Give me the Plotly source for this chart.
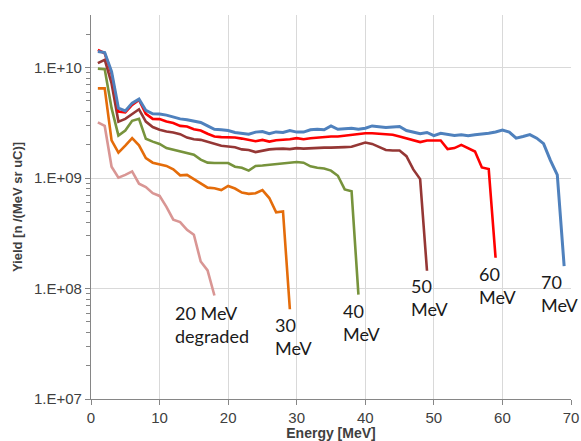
import plotly.graph_objects as go

# Neutron yield spectra per beam energy, 1 MeV bins
yield_70 = [1.40e10, 1.37e10, 9.2e9, 4.3e9, 4.06e9, 4.78e9, 5.19e9, 4.1e9, 3.82e9, 3.8e9,
            3.72e9, 3.57e9, 3.44e9, 3.37e9, 3.3e9, 3.19e9, 2.97e9, 2.77e9, 2.74e9, 2.7e9,
            2.59e9, 2.55e9, 2.5e9, 2.61e9, 2.64e9, 2.52e9, 2.62e9, 2.59e9, 2.7e9, 2.61e9,
            2.61e9, 2.74e9, 2.77e9, 2.74e9, 2.97e9, 2.77e9, 2.79e9, 2.83e9, 2.77e9, 2.83e9,
            2.97e9, 2.93e9, 2.87e9, 2.9e9, 2.93e9, 2.7e9, 2.59e9, 2.52e9, 2.59e9, 2.42e9,
            2.55e9, 2.5e9, 2.43e9, 2.47e9, 2.42e9, 2.47e9, 2.5e9, 2.55e9, 2.62e9, 2.72e9,
            2.61e9, 2.3e9, 2.38e9, 2.48e9, 2.3e9, 2.05e9, 1.45e9, 1.07e9, 1.6e8]
yield_60 = [1.45e10, 1.35e10, 8.8e9, 4.0e9, 3.93e9, 4.6e9, 5.1e9, 3.82e9, 3.44e9, 3.42e9,
            3.25e9, 3.15e9, 2.97e9, 2.93e9, 2.77e9, 2.7e9, 2.52e9, 2.38e9, 2.35e9, 2.35e9,
            2.33e9, 2.28e9, 2.22e9, 2.16e9, 2.22e9, 2.14e9, 2.2e9, 2.22e9, 2.25e9, 2.3e9,
            2.25e9, 2.3e9, 2.33e9, 2.35e9, 2.38e9, 2.38e9, 2.42e9, 2.45e9, 2.5e9, 2.55e9,
            2.55e9, 2.52e9, 2.52e9, 2.47e9, 2.38e9, 2.3e9, 2.22e9, 2.12e9, 2.19e9, 2.19e9,
            2.19e9, 1.83e9, 1.87e9, 2.0e9, 1.87e9, 1.74e9, 1.25e9, 1.21e9, 1.9e8]
yield_50 = [1.1e10, 1.18e10, 7.2e9, 3.25e9, 3.44e9, 3.82e9, 4.2e9, 3.25e9, 2.9e9, 2.74e9,
            2.64e9, 2.59e9, 2.5e9, 2.33e9, 2.25e9, 2.22e9, 2.14e9, 2.03e9, 1.96e9, 1.93e9,
            1.9e9, 1.82e9, 1.8e9, 1.72e9, 1.78e9, 1.82e9, 1.84e9, 1.85e9, 1.83e9, 1.87e9,
            1.85e9, 1.87e9, 1.88e9, 1.89e9, 1.89e9, 1.89e9, 1.91e9, 1.92e9, 2.0e9, 2.1e9,
            2.04e9, 1.93e9, 1.8e9, 1.78e9, 1.78e9, 1.58e9, 1.2e9, 9.8e8, 1.45e8]
yield_40 = [9.8e9, 9.7e9, 4.3e9, 2.43e9, 2.7e9, 3.3e9, 3.44e9, 2.27e9, 2.14e9, 2.04e9,
            1.87e9, 1.8e9, 1.74e9, 1.68e9, 1.63e9, 1.47e9, 1.38e9, 1.37e9, 1.37e9, 1.37e9,
            1.27e9, 1.24e9, 1.17e9, 1.29e9, 1.3e9, 1.32e9, 1.35e9, 1.37e9, 1.38e9, 1.4e9,
            1.38e9, 1.28e9, 1.24e9, 1.22e9, 1.17e9, 1.05e9, 7.9e8, 7.6e8, 8.8e7]
yield_30 = [6.5e9, 6.5e9, 2.2e9, 1.7e9, 1.97e9, 2.3e9, 1.98e9, 1.52e9, 1.38e9, 1.34e9,
            1.29e9, 1.2e9, 1.06e9, 1.07e9, 9.8e8, 9.0e8, 8.2e8, 8.1e8, 7.8e8, 8.5e8,
            8.05e8, 7.4e8, 7.2e8, 7.3e8, 7.8e8, 6.6e8, 4.9e8, 5.0e8, 6.5e7]
yield_20d = [3.2e9, 2.97e9, 1.27e9, 1.01e9, 1.07e9, 1.15e9, 8.9e8, 8.3e8, 7.3e8, 6.9e8,
             5.5e8, 4.2e8, 4.0e8, 3.4e8, 3.07e8, 1.76e8, 1.46e8, 8.65e7]

series_names = ["70 MeV", "60 MeV", "50 MeV", "40 MeV", "30 MeV", "20 MeV degraded"]
series_values = [yield_70, yield_60, yield_50, yield_40, yield_30, yield_20d]
series_colors = ["#4F81BD", "#FF0000", "#953735", "#77933C", "#E46C0A", "#D99694"]
series_widths = [3, 2.6, 2.6, 2.6, 2.6, 2.6]

# Curve labels: text, left x (MeV), centre y (log10 yield)
label_texts = ["20 MeV<br>degraded", "30<br>MeV", "40<br>MeV", "50<br>MeV", "60<br>MeV", "70<br>MeV"]
label_x = [12.0, 26.5, 36.5, 46.4, 56.3, 65.3]
label_logy = [7.672, 7.57, 7.695, 7.917, 8.027, 7.957]

major_vals = [1e7, 1e8, 1e9, 1e10]
major_text = ["1.E+07", "1.E+08", "1.E+09", "1.E+10"]
minor_vals = [m * 10 ** e for e in range(7, 11) for m in range(2, 10) if m * 10 ** e < 3e10]
x_ticks = [0, 10, 20, 30, 40, 50, 60, 70]

fig = go.Figure()
# draw lower curves first so the high-energy ones sit on top
for name, vals, col, w in reversed(list(zip(series_names, series_values, series_colors, series_widths))):
    fig.add_trace(go.Scatter(
        x=list(range(1, len(vals) + 1)), y=vals, mode="lines", name=name,
        line=dict(color=col, width=w), showlegend=False,
    ))

for txt, lx, ly in zip(label_texts, label_x, label_logy):
    fig.add_annotation(x=lx, y=ly, xref="x", yref="y", text=txt, showarrow=False,
                       xanchor="left", yanchor="middle", align="left",
                       font=dict(family="Lato, Open Sans, sans-serif", size=18, color="#1a1a1a"))

axis_color = "#868686"
tick_font = dict(family="Liberation Sans, Arial, sans-serif", size=15, color="#404040")
fig.update_layout(
    width=581, height=441,
    margin=dict(l=91, r=10, t=15, b=42),
    paper_bgcolor="white", plot_bgcolor="white",
    font=dict(family="Liberation Sans, Arial, sans-serif", color="#404040"),
    xaxis=dict(
        range=[0, 70], tickvals=x_ticks, showgrid=True, gridcolor="#D9D9D9", gridwidth=1,
        showline=True, linecolor=axis_color, linewidth=1.2, ticks="outside", ticklen=5,
        tickcolor=axis_color, tickfont=tick_font, zeroline=False, automargin=False,
        title=dict(text="<b>Energy [MeV]</b>", font=dict(size=14, color="#404040"), standoff=4),
    ),
    yaxis=dict(
        type="log", range=[7, 10.477], tickvals=major_vals, ticktext=major_text,
        showgrid=True, gridcolor="#D9D9D9", gridwidth=1,
        showline=True, linecolor=axis_color, linewidth=1.2, ticks="outside", ticklen=5,
        tickcolor=axis_color, tickfont=tick_font, zeroline=False, automargin=False,
        minor=dict(tickvals=minor_vals, ticks="outside", ticklen=4, tickcolor=axis_color,
                   showgrid=False),
        title=dict(text="<b>Yield [n /(MeV sr uC)]</b>", font=dict(size=13, color="#404040"),
                   standoff=8),
    ),
)

fig.write_html("out.html")
